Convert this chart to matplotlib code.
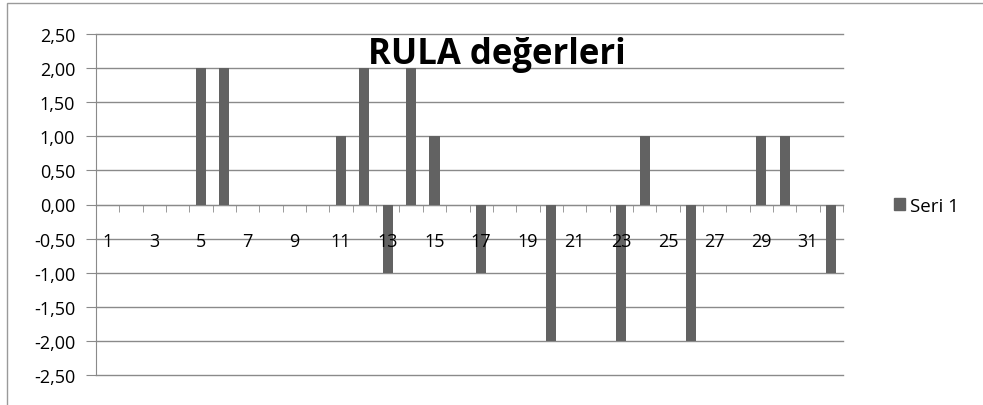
import numpy as np
import matplotlib
matplotlib.use("Agg")
import matplotlib.pyplot as plt
from matplotlib.patches import Rectangle
from matplotlib.ticker import FuncFormatter, MultipleLocator

# RULA scores per observation
categories = list(range(1, 33))
values = [0, 0, 0, 0, 2, 2, 0, 0, 0, 0,
          1, 2, -1, 2, 1, 0, -1, 0, 0, -2,
          0, 0, -2, 1, 0, -2, 0, 0, 1, 1,
          0, -1]
series_name = "Seri 1"
title = "RULA değerleri"
bar_color = "#626262"

plt.rcParams["font.family"] = ["Open Sans", "DejaVu Sans"]

fig = plt.figure(figsize=(9.83, 4.06), dpi=100)
ax = fig.add_axes([96 / 983, 30 / 406, 747 / 983, 341 / 406])

ax.bar(categories, values, width=0.43, color=bar_color, zorder=2,
       label=series_name)

ax.set_xlim(0.5, 32.5)
ax.set_ylim(-2.5, 2.5)
ax.yaxis.set_major_locator(MultipleLocator(0.5))
ax.yaxis.set_major_formatter(FuncFormatter(lambda v, p: f"{v:.2f}".replace(".", ",")))
ax.grid(axis="y", color="#8a8a8a", linewidth=1.0)
for gl in ax.get_ygridlines():
    gl.set_clip_on(False)

# gridlines behind the bars, category labels in front of them
ax.yaxis.set_zorder(0.5)
ax.xaxis.set_zorder(4)

for side in ("top", "right"):
    ax.spines[side].set_visible(False)
ax.spines["left"].set_color("#8a8a8a")
ax.spines["left"].set_zorder(1)
ax.spines["bottom"].set_color("#8a8a8a")
ax.spines["bottom"].set_position(("data", 0))
ax.spines["bottom"].set_zorder(1)

odd = categories[::2]
ax.set_xticks(odd)
ax.set_xticklabels([str(c) for c in odd])
ax.set_xticks(np.arange(0.5, 33, 1), minor=True)
ax.tick_params(axis="x", which="major", length=0, pad=20, labelsize=13)
ax.tick_params(axis="x", which="minor", length=5, direction="out",
               color="#8a8a8a")
ax.tick_params(axis="y", length=7, color="#8a8a8a", labelsize=13, pad=8)

fig.text(497 / 983, 1 - 55 / 406, title, ha="center", va="center",
         fontsize=25, fontweight="bold")

fig.legend(handles=[Rectangle((0, 0), 1, 1, color=bar_color)],
           labels=[series_name], loc="center left",
           bbox_to_anchor=(877 / 983, 1 - 207 / 406), frameon=False,
           fontsize=13.5, handlelength=0.6, handleheight=0.6,
           handletextpad=0.25)

# outer chart frame
fig.patches.append(Rectangle((7 / 983, -0.05), 1.2, 1 - 4 / 406 + 0.05,
                             transform=fig.transFigure, fill=False,
                             edgecolor="#9a9a9a", linewidth=1.0))

fig.savefig("out.png", dpi=100)
